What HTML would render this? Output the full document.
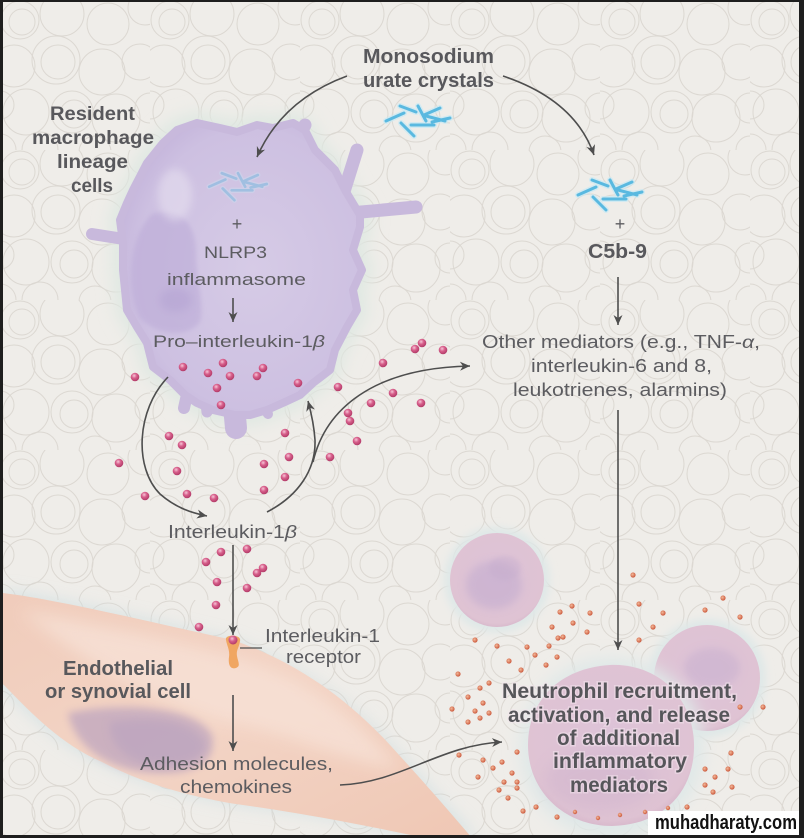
<!DOCTYPE html>
<html><head><meta charset="utf-8">
<style>
html,body{margin:0;padding:0;background:#222;}
svg{display:block;}
text{font-family:"Liberation Sans",sans-serif;}
</style></head>
<body>
<svg width="804" height="838" viewBox="0 0 804 838" xmlns="http://www.w3.org/2000/svg">
<defs>
  <pattern id="bgp" x="0" y="0" width="150" height="150" patternUnits="userSpaceOnUse">
    <rect width="150" height="150" fill="#efede9"/>
    <g fill="none" stroke="#dcd8d2" stroke-width="1">
      <circle cx="20" cy="20" r="19"/><circle cx="22" cy="22" r="13"/>
      <circle cx="62" cy="14" r="22"/>
      <circle cx="108" cy="24" r="21"/>
      <circle cx="145" cy="8" r="17"/>
      <circle cx="14" cy="66" r="21"/>
      <circle cx="56" cy="60" r="24"/><circle cx="58" cy="62" r="17"/>
      <circle cx="102" cy="72" r="23"/>
      <circle cx="140" cy="62" r="18"/>
      <circle cx="26" cy="112" r="23"/>
      <circle cx="72" cy="112" r="21"/><circle cx="74" cy="114" r="14"/>
      <circle cx="116" cy="118" r="24"/>
      <circle cx="150" cy="108" r="15"/>
      <circle cx="40" cy="150" r="18"/><circle cx="95" cy="152" r="16"/><circle cx="0" cy="150" r="16"/>
      <circle cx="150" cy="150" r="14"/><circle cx="0" cy="105" r="14"/>
    </g>
  </pattern>
  <filter id="blur8" x="-30%" y="-30%" width="160%" height="160%"><feGaussianBlur stdDeviation="8"/></filter>
  <filter id="blur4" x="-30%" y="-30%" width="160%" height="160%"><feGaussianBlur stdDeviation="4"/></filter>
  <filter id="blur2" x="-30%" y="-30%" width="160%" height="160%"><feGaussianBlur stdDeviation="2"/></filter>
  <radialGradient id="mac" cx="0.55" cy="0.5" r="0.6">
    <stop offset="0" stop-color="#d6cbe6"/>
    <stop offset="0.8" stop-color="#cdc0e1"/>
    <stop offset="1" stop-color="#c3b3da"/>
  </radialGradient>
  <radialGradient id="neu" cx="0.5" cy="0.45" r="0.6">
    <stop offset="0" stop-color="#ddc3d8"/>
    <stop offset="0.85" stop-color="#dfc3d3"/>
    <stop offset="1" stop-color="#d1afc5"/>
  </radialGradient>
  <radialGradient id="pdot" cx="0.4" cy="0.35" r="0.65">
    <stop offset="0" stop-color="#f6c6d8"/>
    <stop offset="0.45" stop-color="#d8608c"/>
    <stop offset="1" stop-color="#b23a68"/>
  </radialGradient>
  <radialGradient id="odot" cx="0.4" cy="0.4" r="0.6">
    <stop offset="0" stop-color="#f3b898"/>
    <stop offset="1" stop-color="#cc5a3e"/>
  </radialGradient>
  <linearGradient id="endo" x1="0" y1="0" x2="1" y2="1">
    <stop offset="0" stop-color="#f0ccbb"/>
    <stop offset="0.5" stop-color="#f3d4c5"/>
    <stop offset="1" stop-color="#efc7b4"/>
  </linearGradient>
  <marker id="ah" markerWidth="12" markerHeight="10" refX="10" refY="5" orient="auto" markerUnits="userSpaceOnUse">
    <path d="M0,0.5 L10,5 L0,9.5 L3,5 Z" fill="#4e4e4e"/>
  </marker>
  <g id="crys" stroke-linecap="round">
    <g stroke="#c8eaf5" stroke-width="6" opacity="0.7">
      <path d="M-18,-12 L-2,-6 M-32,3 L-14,-5 M-17,5 L-4,18 M-7,7 L16,7 M0,-12 L8,3 M6,-3 L22,-10 M8,-2 L27,3 M14,4 L32,0"/>
    </g>
    <g stroke="#5ab9e0" stroke-width="3">
      <path d="M-18,-12 L-2,-6 M-32,3 L-14,-5 M-17,5 L-4,18 M-7,7 L16,7 M0,-12 L8,3 M6,-3 L22,-10 M8,-2 L27,3 M14,4 L32,0"/>
    </g>
  </g>
</defs>

<rect x="0" y="0" width="804" height="838" fill="url(#bgp)"/>

<!-- Endothelial cell -->
<path d="M3,590 C60,598 150,620 233,640 C290,662 345,695 392,745 C425,782 455,815 478,838 L420,838 C360,822 300,812 250,806 C190,798 140,782 100,762 C60,745 30,715 3,688 Z" fill="#d2e0e2" filter="url(#blur8)" opacity="0.8"/>
<path d="M3,593 C60,600 150,622 233,640 C290,660 342,693 390,745 C422,780 450,812 472,838 L425,838 C360,824 300,813 250,806 C190,798 140,782 102,762 C62,745 32,714 3,684 Z" fill="url(#endo)"/>
<path d="M20,610 C100,625 200,645 260,665 C320,690 360,720 400,770 C340,760 280,730 220,720 C150,700 80,660 20,610 Z" fill="#f7e1d6" filter="url(#blur8)" opacity="0.8"/>
<path d="M68,713 C120,702 195,705 212,735 C218,765 190,776 150,773 C110,770 75,748 68,713 Z" fill="#c5abbf" filter="url(#blur4)" opacity="0.85"/>
<path d="M110,722 C150,715 195,720 205,745 C200,765 170,768 140,762 C120,755 108,740 110,722 Z" fill="#b6a0bf" filter="url(#blur4)" opacity="0.5"/>

<!-- Neutrophils -->
<circle cx="497" cy="580" r="53" fill="#dfe8e8" filter="url(#blur4)"/>
<circle cx="497" cy="580" r="47" fill="url(#neu)"/>
<ellipse cx="494" cy="585" rx="28" ry="24" fill="#c4adcf" filter="url(#blur4)" opacity="0.6"/>
<ellipse cx="505" cy="568" rx="16" ry="12" fill="#c5accd" filter="url(#blur2)" opacity="0.4"/>

<circle cx="707" cy="678" r="59" fill="#dfe8e8" filter="url(#blur4)"/>
<circle cx="707" cy="678" r="53" fill="url(#neu)"/>
<ellipse cx="712" cy="668" rx="28" ry="20" fill="#c6aece" filter="url(#blur4)" opacity="0.5"/>

<ellipse cx="612" cy="748" rx="92" ry="90" fill="#dfe8e8" filter="url(#blur8)"/>
<path d="M528,745 C528,700 560,668 610,665 C660,663 695,700 694,748 C693,795 660,825 612,826 C565,826 528,792 528,745 Z" fill="url(#neu)"/>
<ellipse cx="600" cy="780" rx="55" ry="30" fill="#cfb2cc" filter="url(#blur8)" opacity="0.45"/>

<!-- Macrophage -->
<g>
  <polygon points="177,130 197,123 220,128 237,132 257,125 273,128 293,123 305,130 315,150 335,170 345,190 360,215 360,227 353,250 362,270 353,290 357,310 347,327 335,350 330,370 313,383 300,395 285,402 267,410 250,415 235,415 213,410 197,403 185,395 170,380 153,367 147,343 137,327 127,310 125,290 123,270 123,243 120,220 127,203 133,190 147,163 163,143" fill="#dfe8e2" stroke="#dfe8e2" stroke-width="22" stroke-linejoin="round" filter="url(#blur8)"/>
  <g stroke="#c8b9dc" stroke-linecap="round" fill="none">
    <path d="M296,140 L305,125" stroke-width="13"/>
    <path d="M342,198 L357,150" stroke-width="13"/>
    <path d="M350,213 L416,207" stroke-width="13"/>
    <path d="M130,240 L92,234" stroke-width="12"/>
    <path d="M233,395 L236,428" stroke-width="22"/>
    <path d="M188,390 L184,408" stroke-width="12"/>
    <path d="M205,395 L207,412" stroke-width="11"/>
    <path d="M262,405 L268,414" stroke-width="10"/>
  </g>
  <polygon points="177,130 197,123 220,128 237,132 257,125 273,128 293,123 305,130 315,150 335,170 345,190 360,215 360,227 353,250 362,270 353,290 357,310 347,327 335,350 330,370 313,383 300,395 285,402 267,410 250,415 235,415 213,410 197,403 185,395 170,380 153,367 147,343 137,327 127,310 125,290 123,270 123,243 120,220 127,203 133,190 147,163 163,143" fill="url(#mac)" stroke="#c8b9dc" stroke-width="8" stroke-linejoin="round"/>
  <path d="M152,214 C180,206 196,224 196,252 C196,280 205,305 200,322 C188,338 158,336 140,318 C127,292 126,240 152,214 Z" fill="#bbaad7" opacity="0.55" filter="url(#blur2)"/>
  <ellipse cx="176" cy="300" rx="16" ry="12" fill="#ab99cd" opacity="0.35" filter="url(#blur4)"/>
  <ellipse cx="175" cy="195" rx="17" ry="26" fill="#f2eef6" opacity="0.4" filter="url(#blur4)"/>
  <use href="#crys" transform="translate(238,184) scale(0.9)" opacity="0.4"/>
</g>

<!-- pink dots -->
<g fill="url(#pdot)">
  <circle cx="135" cy="377" r="4.3"/><circle cx="183" cy="367" r="4.3"/><circle cx="208" cy="373" r="4.3"/>
  <circle cx="223" cy="363" r="4.3"/><circle cx="230" cy="376" r="4.3"/><circle cx="217" cy="388" r="4.3"/>
  <circle cx="221" cy="405" r="4.3"/><circle cx="263" cy="368" r="4.3"/><circle cx="257" cy="376" r="4.3"/>
  <circle cx="298" cy="383" r="4.3"/><circle cx="338" cy="387" r="4.3"/><circle cx="383" cy="363" r="4.3"/>
  <circle cx="393" cy="393" r="4.3"/><circle cx="421" cy="403" r="4.3"/><circle cx="415" cy="349" r="4.3"/>
  <circle cx="422" cy="343" r="4.3"/><circle cx="443" cy="350" r="4.3"/><circle cx="371" cy="403" r="4.3"/>
  <circle cx="348" cy="413" r="4.3"/>
  <circle cx="119" cy="463" r="4.3"/><circle cx="169" cy="436" r="4.3"/><circle cx="182" cy="445" r="4.3"/>
  <circle cx="177" cy="471" r="4.3"/><circle cx="145" cy="496" r="4.3"/><circle cx="187" cy="494" r="4.3"/>
  <circle cx="214" cy="498" r="4.3"/><circle cx="285" cy="433" r="4.3"/><circle cx="289" cy="457" r="4.3"/>
  <circle cx="264" cy="464" r="4.3"/><circle cx="285" cy="477" r="4.3"/><circle cx="264" cy="490" r="4.3"/>
  <circle cx="330" cy="457" r="4.3"/><circle cx="357" cy="441" r="4.3"/><circle cx="350" cy="421" r="4.3"/>
  <circle cx="221" cy="552" r="4.3"/><circle cx="247" cy="549" r="4.3"/><circle cx="206" cy="562" r="4.3"/>
  <circle cx="263" cy="568" r="4.3"/><circle cx="257" cy="573" r="4.3"/><circle cx="217" cy="582" r="4.3"/>
  <circle cx="247" cy="588" r="4.3"/><circle cx="216" cy="605" r="4.3"/><circle cx="199" cy="627" r="4.3"/>
</g>

<!-- receptor -->
<path d="M226,640 C224,634 242,634 240,641 C239,648 236,650 237,656 C238,662 241,666 236,668 C230,670 228,664 229,657 C230,650 227,646 226,640 Z" fill="#f0a662"/>
<circle cx="233" cy="640" r="4.5" fill="url(#pdot)"/>

<!-- orange dots -->
<g fill="url(#odot)">
  <circle cx="633" cy="575" r="2.6"/><circle cx="639" cy="604" r="2.6"/><circle cx="572" cy="606" r="2.6"/>
  <circle cx="560" cy="612" r="2.6"/><circle cx="590" cy="613" r="2.6"/><circle cx="663" cy="613" r="2.6"/>
  <circle cx="705" cy="610" r="2.6"/><circle cx="723" cy="598" r="2.6"/><circle cx="740" cy="617" r="2.6"/>
  <circle cx="573" cy="623" r="2.6"/><circle cx="552" cy="627" r="2.6"/><circle cx="587" cy="632" r="2.6"/>
  <circle cx="563" cy="637" r="2.6"/><circle cx="653" cy="627" r="2.6"/><circle cx="639" cy="640" r="2.6"/>
  <circle cx="475" cy="640" r="2.6"/><circle cx="497" cy="646" r="2.6"/><circle cx="527" cy="647" r="2.6"/>
  <circle cx="549" cy="646" r="2.6"/><circle cx="558" cy="638" r="2.6"/><circle cx="535" cy="655" r="2.6"/>
  <circle cx="557" cy="657" r="2.6"/><circle cx="509" cy="661" r="2.6"/><circle cx="546" cy="665" r="2.6"/>
  <circle cx="521" cy="670" r="2.6"/><circle cx="458" cy="674" r="2.6"/><circle cx="489" cy="683" r="2.6"/>
  <circle cx="480" cy="688" r="2.6"/><circle cx="468" cy="697" r="2.6"/><circle cx="483" cy="703" r="2.6"/>
  <circle cx="452" cy="709" r="2.6"/><circle cx="475" cy="711" r="2.6"/><circle cx="489" cy="713" r="2.6"/>
  <circle cx="468" cy="722" r="2.6"/><circle cx="480" cy="718" r="2.6"/><circle cx="459" cy="755" r="2.6"/>
  <circle cx="517" cy="752" r="2.6"/><circle cx="483" cy="760" r="2.6"/><circle cx="502" cy="762" r="2.6"/>
  <circle cx="493" cy="768" r="2.6"/><circle cx="512" cy="773" r="2.6"/><circle cx="478" cy="777" r="2.6"/>
  <circle cx="504" cy="782" r="2.6"/><circle cx="517" cy="782" r="2.6"/><circle cx="517" cy="788" r="2.6"/>
  <circle cx="499" cy="790" r="2.6"/><circle cx="508" cy="798" r="2.6"/><circle cx="536" cy="807" r="2.6"/>
  <circle cx="523" cy="811" r="2.6"/><circle cx="557" cy="817" r="2.6"/><circle cx="763" cy="707" r="2.6"/>
  <circle cx="740" cy="707" r="2.6"/><circle cx="731" cy="753" r="2.6"/><circle cx="705" cy="769" r="2.6"/>
  <circle cx="728" cy="769" r="2.6"/><circle cx="715" cy="777" r="2.6"/><circle cx="705" cy="785" r="2.6"/>
  <circle cx="732" cy="787" r="2.6"/><circle cx="713" cy="792" r="2.6"/><circle cx="687" cy="807" r="2.6"/>
  <circle cx="575" cy="812" r="2.2"/><circle cx="598" cy="818" r="2.2"/><circle cx="620" cy="815" r="2.2"/>
  <circle cx="645" cy="812" r="2.2"/><circle cx="668" cy="808" r="2.2"/>
</g>

<!-- crystals -->
<use href="#crys" transform="translate(418,118)"/>
<use href="#crys" transform="translate(610,192)"/>

<!-- arrows -->
<g fill="none" stroke="#4e4e4e" stroke-width="1.6">
  <path d="M347,76 Q282,100 257,157" marker-end="url(#ah)"/>
  <path d="M503,76 Q575,100 594,155" marker-end="url(#ah)"/>
  <path d="M233,298 L233,322" marker-end="url(#ah)"/>
  <path d="M618,277 L618,325" marker-end="url(#ah)"/>
  <path d="M618,410 L618,650" marker-end="url(#ah)"/>
  <path d="M168,377 C136,410 134,468 160,494 C176,508 192,513 207,516" marker-end="url(#ah)"/>
  <path d="M267,512 C298,496 316,470 315,440 C314,425 311,412 308,401" marker-end="url(#ah)"/>
  <path d="M313,462 C325,410 372,368 470,366" marker-end="url(#ah)"/>
  <path d="M233,545 L233,635" marker-end="url(#ah)"/>
  <path d="M233,695 L233,751" marker-end="url(#ah)"/>
  <path d="M340,785 C400,783 440,745 502,742" marker-end="url(#ah)"/>
  <path d="M240,648 L262,648" stroke-width="1.3"/>
</g>

<!-- text -->
<g fill="#58585c" font-weight="bold" font-size="20">
  <text x="363" y="63" textLength="131" lengthAdjust="spacingAndGlyphs">Monosodium</text>
  <text x="363" y="87" textLength="131" lengthAdjust="spacingAndGlyphs">urate crystals</text>
  <text x="50" y="120" font-size="19" textLength="85" lengthAdjust="spacingAndGlyphs">Resident</text>
  <text x="32" y="144" font-size="19" textLength="122" lengthAdjust="spacingAndGlyphs">macrophage</text>
  <text x="57" y="168" font-size="19" textLength="71" lengthAdjust="spacingAndGlyphs">lineage</text>
  <text x="71" y="192" font-size="19" textLength="42" lengthAdjust="spacingAndGlyphs">cells</text>
  <text x="588" y="258" textLength="59" lengthAdjust="spacingAndGlyphs">C5b-9</text>
  <text x="63" y="675" textLength="110" lengthAdjust="spacingAndGlyphs">Endothelial</text>
  <text x="45" y="698" textLength="146" lengthAdjust="spacingAndGlyphs">or synovial cell</text>
</g>
<g fill="#5c5c60" font-size="18">
  <text x="237" y="230" text-anchor="middle">+</text>
  <text x="620" y="230" text-anchor="middle">+</text>
  <text x="204" y="258" font-size="17" textLength="63" lengthAdjust="spacingAndGlyphs">NLRP3</text>
  <text x="167" y="285" font-size="17" textLength="139" lengthAdjust="spacingAndGlyphs">inflammasome</text>
  <text x="153" y="347" font-size="17" textLength="172" lengthAdjust="spacingAndGlyphs">Pro–interleukin-1<tspan font-style="italic">β</tspan></text>
  <text x="482" y="348" textLength="278" lengthAdjust="spacingAndGlyphs">Other mediators (e.g., TNF-<tspan font-style="italic">α</tspan>,</text>
  <text x="531" y="372" textLength="181" lengthAdjust="spacingAndGlyphs">interleukin-6 and 8,</text>
  <text x="513" y="396" textLength="214" lengthAdjust="spacingAndGlyphs">leukotrienes, alarmins)</text>
  <text x="168" y="538" textLength="129" lengthAdjust="spacingAndGlyphs">Interleukin-1<tspan font-style="italic">β</tspan></text>
  <text x="265" y="642" textLength="115" lengthAdjust="spacingAndGlyphs">Interleukin-1</text>
  <text x="286" y="663" textLength="75" lengthAdjust="spacingAndGlyphs">receptor</text>
  <text x="140" y="770" textLength="193" lengthAdjust="spacingAndGlyphs">Adhesion molecules,</text>
  <text x="180" y="793" textLength="112" lengthAdjust="spacingAndGlyphs">chemokines</text>
</g>
<g fill="#56565a" font-weight="bold" font-size="21" stroke="#f3e6ee" stroke-width="3" paint-order="stroke" stroke-opacity="0.5">
  <text x="502" y="698" textLength="235" lengthAdjust="spacingAndGlyphs">Neutrophil recruitment,</text>
  <text x="508" y="722" textLength="222" lengthAdjust="spacingAndGlyphs">activation, and release</text>
  <text x="557" y="745" textLength="123" lengthAdjust="spacingAndGlyphs">of additional</text>
  <text x="553" y="768" textLength="134" lengthAdjust="spacingAndGlyphs">inflammatory</text>
  <text x="570" y="792" textLength="98" lengthAdjust="spacingAndGlyphs">mediators</text>
</g>

<!-- watermark -->
<rect x="648" y="811" width="152" height="25" fill="#ffffff"/>
<text x="655" y="829" font-size="20" font-weight="bold" fill="#111" textLength="142" lengthAdjust="spacingAndGlyphs">muhadharaty.com</text>

<!-- frame -->
<rect x="0" y="0" width="804" height="2" fill="#1e1e1e"/>
<rect x="0" y="0" width="3" height="838" fill="#1e1e1e"/>
<rect x="799" y="0" width="5" height="838" fill="#1e1e1e"/>
<rect x="0" y="835" width="804" height="3" fill="#1e1e1e"/>
</svg>
</body></html>
